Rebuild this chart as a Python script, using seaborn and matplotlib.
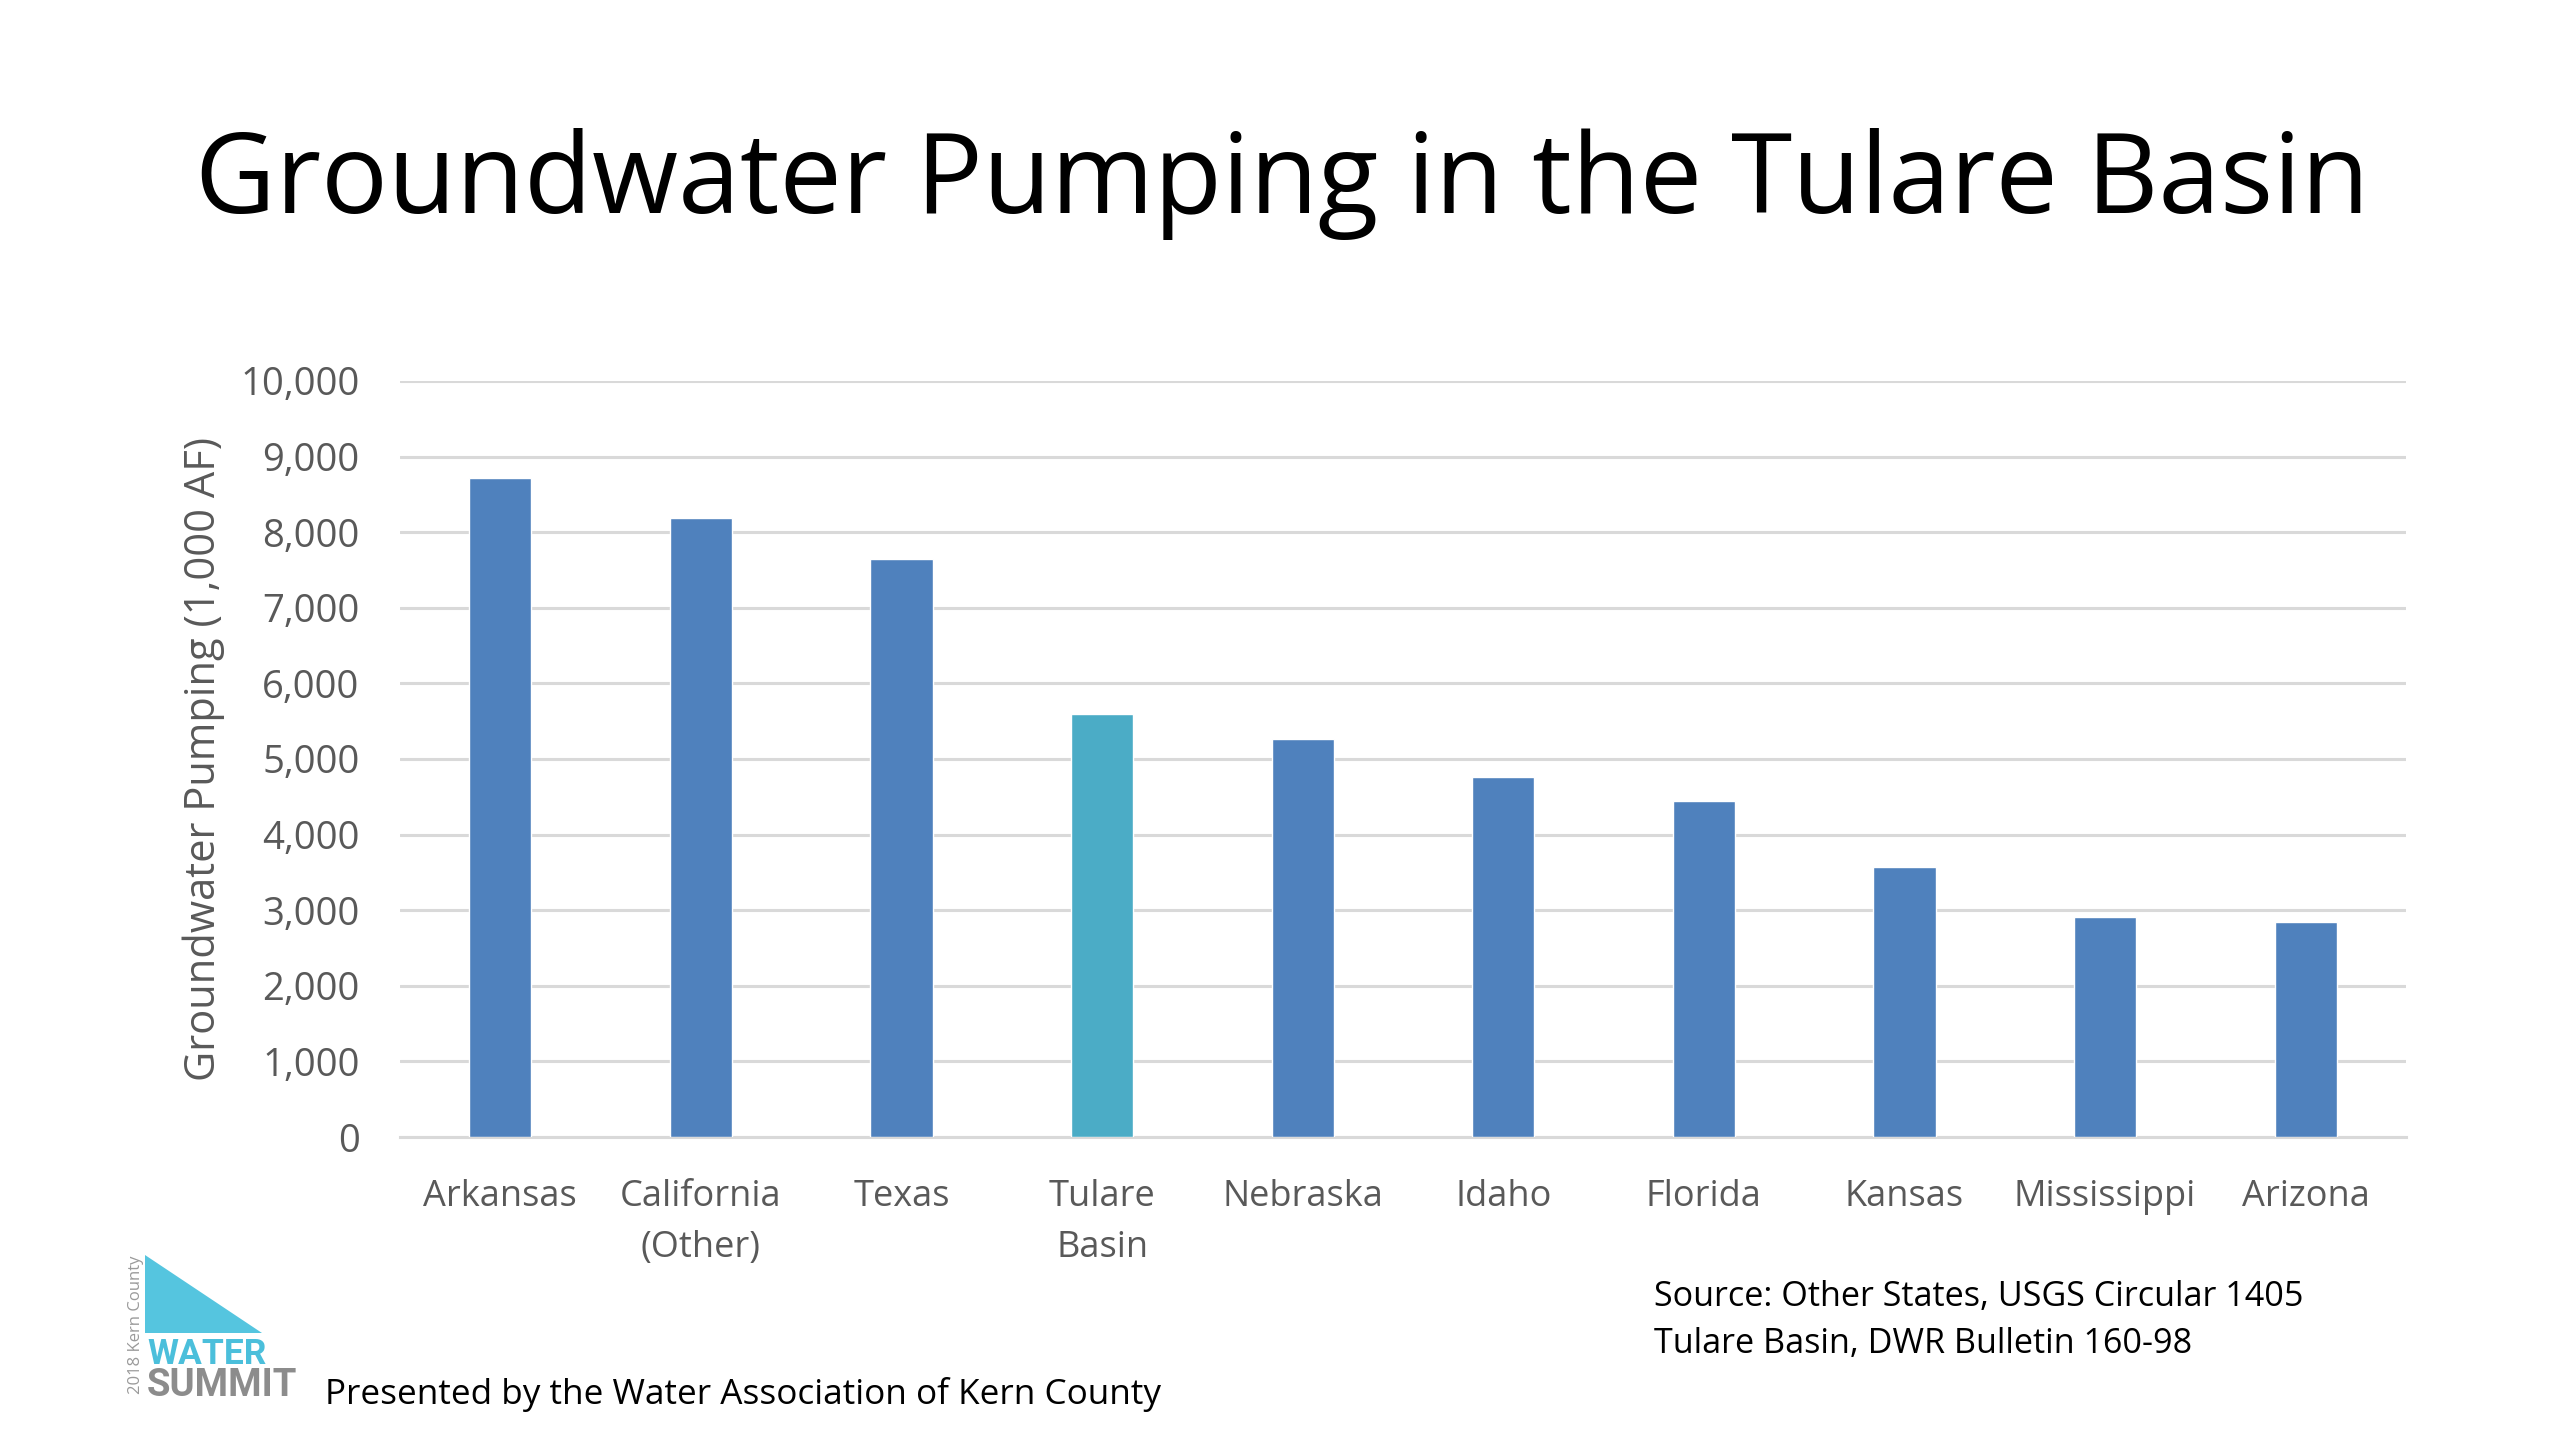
import matplotlib
matplotlib.use("Agg")
import matplotlib.pyplot as plt
import seaborn as sns
from matplotlib.patches import Polygon
from matplotlib.ticker import FuncFormatter

# datos (miles de acre-pies)
states = ["Arkansas", "California\n(Other)", "Texas", "Tulare\nBasin", "Nebraska",
          "Idaho", "Florida", "Kansas", "Mississippi", "Arizona"]
pumping = [8720, 8185, 7645, 5590, 5270, 4765, 4440, 3575, 2910, 2840]
bar_colors = ["#4F81BD", "#4F81BD", "#4F81BD", "#4BACC6", "#4F81BD",
              "#4F81BD", "#4F81BD", "#4F81BD", "#4F81BD", "#4F81BD"]
y_ticks = [0, 1000, 2000, 3000, 4000, 5000, 6000, 7000, 8000, 9000, 10000]

sns.set_theme(style="white")
plt.rcParams["font.family"] = ["Open Sans", "DejaVu Sans"]

W, H = 2560, 1440
fig = plt.figure(figsize=(25.6, 14.4), dpi=100)
fig.patch.set_facecolor("white")
ax = fig.add_axes([400 / W, 1 - 1137 / H, 2006 / W, 756 / H])

sns.barplot(x=states, y=pumping, hue=states, palette=bar_colors, legend=False,
            width=0.31, saturation=1, ax=ax, zorder=3)

ax.set_xlim(-0.5, 9.5)
ax.set_ylim(0, 10000)
ax.set_yticks(y_ticks)
ax.yaxis.set_major_formatter(FuncFormatter(lambda v, p: f"{int(v):,}"))
ax.grid(axis="y", color="#D9D9D9", linewidth=2.2, zorder=0)
ax.grid(axis="x", visible=False)
for s in ["top", "right", "left"]:
    ax.spines[s].set_visible(False)
ax.spines["bottom"].set_color("#D9D9D9")
ax.spines["bottom"].set_linewidth(2.2)
ax.tick_params(axis="y", length=0, pad=29, labelsize=27.5, labelcolor="#595959")
ax.tick_params(axis="x", length=0, pad=30, labelsize=26, labelcolor="#595959")
for lab in ax.get_xticklabels():
    lab.set_linespacing(1.55)
ax.set_xlabel("")
ax.set_ylabel("Groundwater Pumping (1,000 AF)", fontsize=30, color="#595959")
ax.yaxis.set_label_coords(-0.087, 0.5)

# título
fig.text(0.501, 1 - 184 / H, "Groundwater Pumping in the Tulare Basin",
         ha="center", va="center", fontsize=80, color="black")

# fuentes
fig.text(1654 / W, 1 - 1297 / H, "Source: Other States, USGS Circular 1405",
         ha="left", va="center", fontsize=24.6, color="black")
fig.text(1654 / W, 1 - 1344 / H, "Tulare Basin, DWR Bulletin 160-98",
         ha="left", va="center", fontsize=24.6, color="black")
fig.text(325 / W, 1 - 1394 / H, "Presented by the Water Association of Kern County",
         ha="left", va="center", fontsize=25.3, color="black")

# logo
tri = Polygon([(145 / W, 1 - 1255 / H), (145 / W, 1 - 1333 / H), (262 / W, 1 - 1333 / H)],
              closed=True, transform=fig.transFigure, facecolor="#55C5DF", edgecolor="none")
fig.add_artist(tri)
fig.text(147 / W, 1 - 1364 / H, "WATER", ha="left", va="baseline", fontsize=25.5,
         fontweight="bold", color="#4BBFDB", family=["Roboto", "DejaVu Sans"])
fig.text(147 / W, 1 - 1396 / H, "SUMMIT", ha="left", va="baseline", fontsize=27.5,
         fontweight="bold", color="#8C8C8C", family=["Roboto", "DejaVu Sans"])
fig.text(136 / W, 1 - 1325 / H, "2018 Kern County", ha="center", va="center", fontsize=12,
         rotation=90, color="#9A9A9A")

fig.savefig("out.png", dpi=100, facecolor="white")
